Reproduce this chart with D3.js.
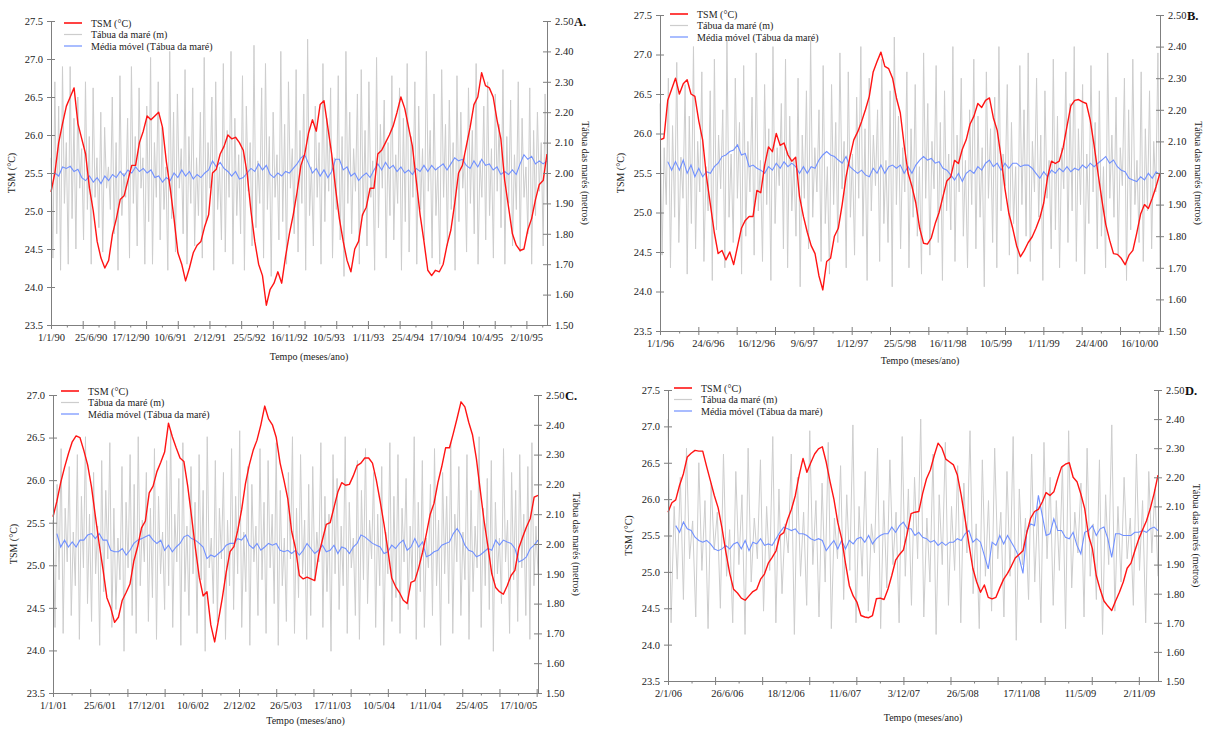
<!DOCTYPE html>
<html><head><meta charset="utf-8">
<script src="https://cdn.jsdelivr.net/npm/d3@7"></script>
<style>
html,body{margin:0;padding:0;background:#fff;}
svg{display:block;}
svg text{font-family:"Liberation Serif","Times New Roman",serif;}
</style></head><body>
<svg id="chart" width="1208" height="729"></svg>
<script>
// ---------- DATA ----------
const ticksA = ["1/1/90","25/6/90","17/12/90","10/6/91","2/12/91","25/5/92","16/11/92","10/5/93","1/11/93","25/4/94","17/10/94","10/4/95","2/10/95"];
const ticksB = ["1/1/96","24/6/96","16/12/96","9/6/97","1/12/97","25/5/98","16/11/98","10/5/99","1/11/99","24/4/00","16/10/00"];
const ticksC = ["1/1/01","25/6/01","17/12/01","10/6/02","2/12/02","26/5/03","17/11/03","10/5/04","1/11/04","25/4/05","17/10/05"];
const ticksD = ["2/1/06","26/6/06","18/12/06","11/6/07","3/12/07","26/5/08","17/11/08","11/5/09","2/11/09"];

const periodA = ["1/1/90","1/1/96"];
const periodB = ["1/1/96","31/12/00"];
const periodC = ["1/1/01","31/12/05"];
const periodD = ["2/1/06","29/12/09"];

// TSM (°C), evenly spaced over the period
const tsmA = [25.25,25.5,25.9,26.15,26.38,26.5,26.62,26.15,25.95,25.75,
25.3,25.0,24.6,24.38,24.25,24.35,24.7,24.9,25.15,25.2,
25.4,25.6,25.6,25.9,26.05,26.25,26.2,26.25,26.3,26.1,
25.65,25.3,24.9,24.45,24.3,24.08,24.25,24.45,24.55,24.6,
24.8,24.95,25.5,25.55,25.75,25.85,26.0,25.95,25.97,25.9,
25.8,25.5,25.0,24.6,24.3,24.15,23.76,23.97,24.05,24.2,
24.05,24.4,24.7,24.95,25.25,25.6,25.75,26.03,26.2,26.05,
26.4,26.45,26.1,25.75,25.3,24.9,24.6,24.35,24.2,24.5,
24.6,24.95,25.05,25.3,25.3,25.75,25.8,25.9,26.0,26.12,
26.3,26.5,26.35,26.1,25.85,25.4,24.95,24.6,24.22,24.15,
24.22,24.2,24.3,24.55,24.75,25.1,25.5,25.6,25.85,26.1,
26.4,26.5,26.82,26.65,26.62,26.5,26.2,25.95,25.4,25.05,
24.7,24.55,24.48,24.5,24.75,24.9,25.15,25.35,25.4,25.75];

const tsmB = [25.92,25.94,26.42,26.56,26.7,26.5,26.63,26.68,26.5,26.47,
26.16,25.92,25.45,25.1,24.75,24.48,24.52,24.4,24.5,24.34,
24.57,24.8,24.9,24.95,24.95,25.28,25.25,25.6,25.83,25.77,
26.0,25.85,25.88,25.73,25.65,25.7,25.2,24.95,24.75,24.58,
24.48,24.2,24.02,24.38,24.42,24.7,24.8,25.1,25.45,25.7,
25.92,26.02,26.15,26.3,26.47,26.78,26.91,27.03,26.85,26.82,
26.7,26.45,26.26,25.85,25.5,25.33,25.12,24.8,24.61,24.6,
24.68,24.86,25.0,25.2,25.4,25.45,25.66,25.62,25.8,25.92,
26.12,26.22,26.38,26.33,26.42,26.45,26.2,26.04,25.7,25.3,
24.99,24.8,24.58,24.44,24.52,24.62,24.69,24.8,24.93,25.12,
25.45,25.65,25.62,25.65,25.82,26.09,26.35,26.42,26.43,26.4,
26.38,26.17,25.85,25.5,25.16,24.85,24.65,24.48,24.47,24.42,
24.34,24.46,24.52,24.74,24.98,25.1,25.05,25.18,25.33,25.5];

const tsmC = [25.57,25.75,25.97,26.15,26.31,26.45,26.52,26.5,26.35,26.18,
25.92,25.58,25.25,24.95,24.62,24.5,24.33,24.39,24.59,24.68,
24.78,25.05,25.22,25.44,25.52,25.85,25.93,26.1,26.21,26.33,
26.67,26.51,26.38,26.26,26.22,25.93,25.57,25.2,24.86,24.64,
24.69,24.3,24.1,24.36,24.62,24.92,25.16,25.22,25.41,25.65,
25.96,26.18,26.35,26.47,26.65,26.87,26.72,26.65,26.5,26.2,
26.0,25.78,25.4,25.2,24.88,24.84,24.86,24.84,24.82,25.12,
25.3,25.48,25.5,25.68,25.86,25.97,25.94,25.95,26.05,26.17,
26.2,26.26,26.26,26.2,26.0,25.75,25.48,25.18,24.85,24.75,
24.68,24.59,24.55,24.8,24.82,24.97,25.15,25.37,25.6,25.73,
25.97,26.16,26.38,26.38,26.55,26.73,26.92,26.86,26.68,26.53,
26.25,25.88,25.52,25.22,24.9,24.74,24.69,24.66,24.76,24.88,
24.94,25.2,25.33,25.45,25.55,25.8,25.82];

const tsmD = [25.82,25.95,25.99,26.19,26.35,26.58,26.63,26.67,26.66,26.66,
26.45,26.25,26.05,25.88,25.6,25.27,24.98,24.76,24.71,24.64,
24.61,24.67,24.73,24.76,24.9,24.97,25.12,25.2,25.29,25.5,
25.54,25.72,25.86,26.05,26.33,26.56,26.37,26.5,26.62,26.69,
26.72,26.51,26.24,26.0,25.68,25.46,25.12,24.81,24.67,24.58,
24.4,24.38,24.37,24.4,24.63,24.64,24.62,24.76,24.95,25.16,
25.24,25.3,25.53,25.8,25.82,25.83,26.08,26.28,26.4,26.6,
26.77,26.7,26.55,26.51,26.47,26.33,26.05,25.73,25.38,25.05,
24.86,24.72,24.82,24.65,24.63,24.65,24.78,24.9,24.98,25.08,
25.19,25.24,25.29,25.54,25.74,25.83,25.86,25.96,26.09,26.05,
26.1,26.28,26.44,26.48,26.5,26.3,26.24,26.07,25.87,25.5,
25.32,24.95,24.76,24.6,24.53,24.47,24.6,24.72,24.86,25.05,
25.12,25.29,25.45,25.58,25.7,25.87,26.08,26.33];

// Tábua da maré (m), evenly spaced over the period
const tideA = [2.05,1.72,2.30,1.80,2.22,1.68,2.35,1.90,2.10,1.70,
2.35,1.85,2.18,1.75,2.25,1.95,2.08,1.78,2.30,1.88,
2.12,1.70,2.28,1.92,2.05,1.82,2.20,1.74,2.15,1.95,
2.02,1.88,2.25,1.80,2.10,1.68,2.32,1.86,2.00,1.92,
2.18,1.72,2.35,1.90,2.12,1.76,2.28,1.95,2.05,1.70,
2.22,1.84,2.38,1.70,2.10,1.92,2.30,1.78,2.15,1.88,
2.02,1.68,2.40,1.85,2.20,1.74,2.26,1.95,2.08,1.80,
2.34,1.70,2.12,1.90,2.28,1.76,2.05,1.86,2.20,1.72,
2.38,1.84,2.10,1.95,2.25,1.68,2.30,1.88,2.02,1.78,
2.36,1.74,2.14,1.92,2.40,1.70,2.18,1.86,2.06,1.80,
2.32,1.68,2.22,1.94,2.10,1.76,2.42,1.82,2.04,1.90,
2.28,1.72,2.36,1.88,2.12,1.66,2.20,1.92,2.06,1.78,
2.40,1.84,2.16,1.70,2.30,1.95,2.08,1.80,2.34,1.74,
2.14,1.90,2.26,1.68,2.44,1.86,2.02,1.76,2.22,1.92,
2.10,1.70,2.36,1.84,2.18,1.94,2.28,1.72,2.05,1.88,
2.32,1.78,2.12,1.66,2.40,1.90,2.20,1.80,2.08,1.94,
2.26,1.70,2.34,1.86,2.14,1.76,2.30,1.92,2.04,1.68,
2.38,1.82,2.16,1.95,2.24,1.72,2.10,1.86,2.32,1.78,
2.06,1.90,2.28,1.68,2.18,1.84,2.36,1.74,2.12,1.92,
2.30,1.70,2.22,1.88,2.08,1.78,2.40,1.94,2.14,1.72,
2.26,1.86,2.02,1.70,2.34,1.92,2.16,1.76,2.24,1.88,
2.10,1.68,2.32,1.84,2.20,1.95,2.06,1.74,2.28,1.90,
2.14,1.80,2.36,1.70,2.04,1.92,2.22,1.78,2.30,1.86,
2.08,1.72,2.26,1.94,2.16,1.82,2.34,1.70,2.12,1.90,
2.24,1.76,2.06,1.88,2.30,1.74,2.18,1.92,2.02,1.80,
2.28,1.70,2.14,1.86,2.20,1.94,2.10,1.76,2.26,1.90];

const tideB = [2.22,1.74,2.08,1.90,2.30,1.70,2.15,1.86,2.35,1.78,
2.05,1.92,2.28,1.68,2.18,1.84,2.40,1.76,2.10,1.94,
2.32,1.72,2.02,1.88,2.26,1.66,2.36,1.82,2.12,1.95,
2.20,1.70,2.42,1.86,2.06,1.78,2.30,1.92,2.16,1.68,
2.34,1.80,2.10,1.94,2.24,1.74,2.38,1.88,2.04,1.72,
2.28,1.90,2.14,1.66,2.40,1.84,2.08,1.96,2.22,1.76,
2.36,1.70,2.18,1.88,2.04,1.80,2.30,1.64,2.12,1.92,
2.26,1.76,2.42,1.86,2.08,1.94,2.20,1.72,2.34,1.84,
2.02,1.68,2.28,1.90,2.16,1.78,2.38,1.95,2.10,1.70,
2.32,1.86,2.06,1.74,2.24,1.92,2.40,1.80,2.14,1.66,
2.30,1.88,2.12,1.96,2.20,1.72,2.36,1.84,2.04,1.78,
2.26,1.64,2.43,1.90,2.18,1.76,2.08,1.94,2.32,1.70,
2.14,1.86,2.28,1.80,2.02,1.68,2.38,1.92,2.22,1.74,
2.10,1.95,2.34,1.78,2.16,1.66,2.26,1.88,2.06,1.82,
2.40,1.72,2.12,1.94,2.30,1.80,2.04,1.70,2.20,1.90,
2.36,1.76,2.18,1.86,2.08,1.64,2.32,1.92,2.14,1.78,
2.24,1.70,2.40,1.88,2.06,1.96,2.28,1.74,2.16,1.84,
2.02,1.68,2.34,1.90,2.20,1.80,2.38,1.72,2.10,1.94,
2.30,1.86,2.12,1.66,2.26,1.92,2.04,1.76,2.36,1.82,
2.18,1.70,2.08,1.95,2.32,1.78,2.22,1.88,2.40,1.72,
2.14,1.90,2.28,1.68,2.06,1.84,2.34,1.94,2.16,1.76,
2.26,1.80,2.02,1.70,2.38,1.92,2.12,1.86,2.24,1.74,
2.08,1.96,2.30,1.66,2.20,1.82,2.36,1.90,2.04,1.78,
2.32,1.72,2.14,1.88,2.26,1.76,2.10,1.94,2.38,1.70];

const tideC = [2.08,1.72,2.20,1.88,2.32,1.70,2.12,1.94,2.26,1.76,
2.04,1.86,2.30,1.68,2.16,1.92,2.36,1.80,2.10,1.74,
2.24,1.90,2.06,1.66,2.28,1.84,2.18,1.95,2.34,1.72,
2.12,1.78,2.02,1.88,2.26,1.64,2.14,1.92,2.30,1.76,
2.20,1.70,2.36,1.86,2.08,1.94,2.24,1.74,2.12,1.82,
2.32,1.68,2.16,1.90,2.04,1.78,2.28,1.86,2.38,1.72,
2.10,1.94,2.22,1.66,2.34,1.84,2.06,1.76,2.26,1.90,
2.14,1.70,2.30,1.88,2.18,1.64,2.36,1.92,2.02,1.80,
2.28,1.74,2.12,1.95,2.24,1.68,2.08,1.86,2.32,1.78,
2.16,1.90,2.38,1.72,2.04,1.84,2.26,1.66,2.20,1.94,
2.06,1.76,2.32,1.88,2.14,1.70,2.28,1.92,2.10,1.80,
2.34,1.66,2.18,1.86,2.02,1.74,2.24,1.95,2.36,1.70,
2.12,1.82,2.30,1.90,2.08,1.68,2.20,1.76,2.26,1.88,
2.04,1.94,2.34,1.72,2.16,1.84,2.10,1.64,2.30,1.90,
2.22,1.78,2.06,1.86,2.36,1.70,2.14,1.92,2.02,1.76,
2.28,1.68,2.18,1.88,2.32,1.80,2.08,1.95,2.24,1.72,
2.10,1.86,2.26,1.66,2.04,1.90,2.34,1.74,2.16,1.82,
2.30,1.70,2.12,1.94,2.22,1.78,2.06,1.88,2.36,1.68,
2.14,1.84,2.28,1.72,2.02,1.92,2.20,1.76,2.32,1.86,
2.08,1.66,2.24,1.90,2.16,1.80,2.34,1.70,2.10,1.94,
2.26,1.76,2.04,1.88,2.30,1.68,2.18,1.84,2.06,1.92,
2.36,1.72,2.12,1.86,2.22,1.78,2.28,1.64,2.14,1.90,
2.02,1.80,2.32,1.94,2.08,1.70,2.24,1.88,2.18,1.74,
2.30,1.92,2.10,1.76,2.26,1.68,2.34,1.86,2.06,1.90];

const tideD = [2.40,1.70,2.10,1.85,2.20,1.78,2.30,1.92,2.05,1.72,
2.25,1.88,2.12,1.68,2.18,1.95,2.08,1.75,2.28,1.86,
2.02,1.70,2.22,1.90,2.14,1.66,2.30,1.84,2.06,1.92,
2.26,1.74,2.10,1.88,2.34,1.70,2.16,1.80,2.04,1.94,
2.28,1.66,2.20,1.86,2.08,1.76,2.36,1.90,2.12,1.72,
2.18,1.84,2.32,1.68,2.06,1.92,2.24,1.78,2.14,1.88,
2.38,1.70,2.10,1.86,2.22,1.74,2.04,1.94,2.30,1.68,
2.12,1.82,2.26,1.90,2.08,1.70,2.34,1.86,2.16,1.76,
2.20,1.92,2.40,1.72,2.06,1.84,2.28,1.66,2.14,1.90,
2.32,1.76,2.10,1.88,2.24,1.70,2.18,1.94,2.36,1.80,
2.04,1.68,2.26,1.86,2.12,1.74,2.30,1.92,2.08,1.72,
2.22,1.86,2.34,1.64,2.16,1.90,2.06,1.78,2.28,1.84,
2.10,1.70,2.32,1.92,2.20,1.76,2.12,1.88,2.24,1.68,
2.36,1.82,2.08,1.94,2.18,1.72,2.30,1.86,2.04,1.78,
2.26,1.66,2.14,1.90,2.38,1.74,2.10,1.84,2.20,1.92,
2.06,1.76,2.28,1.88,2.12,1.70,2.22,1.94,2.16,1.86];

// Média móvel (Tábua da maré), same spacing as TSM
const mmA = [null,2.000,1.990,2.020,2.015,2.022,2.005,2.012,1.985,1.975,1.990,
1.970,1.985,1.965,1.990,1.975,1.995,1.985,2.005,1.990,2.010,
2.000,2.020,2.005,2.015,2.000,2.010,1.985,1.990,1.970,1.985,
1.975,2.000,1.985,2.010,1.990,2.005,1.980,1.995,1.985,2.000,
2.010,2.040,2.020,2.035,2.015,2.005,1.990,2.005,1.980,1.985,
2.000,2.015,2.005,2.030,2.010,2.025,1.995,1.985,2.000,1.990,
2.005,2.000,2.015,2.030,2.050,2.060,2.030,2.000,2.015,1.990,
2.010,1.985,2.005,2.045,2.045,2.010,2.020,1.990,2.000,1.975,
1.990,2.000,1.985,2.010,2.030,2.010,2.035,2.015,2.025,2.005,
2.020,2.000,2.010,1.995,2.015,2.005,2.025,2.005,2.025,2.010,
2.020,2.030,2.010,2.030,2.050,2.040,2.045,2.025,2.015,2.040,
2.020,2.045,2.025,2.030,2.010,2.020,1.995,2.005,1.995,2.010,
1.995,2.030,2.060,2.045,2.055,2.030,2.040,2.030,2.040];

const mmB = [null,null,2.036,2.009,2.036,2.009,2.041,1.999,2.025,1.988,2.015,1.988,
2.004,1.999,2.020,2.031,2.052,2.057,2.068,2.073,2.089,2.057,
2.062,2.020,2.025,2.015,2.009,1.999,2.020,2.009,2.031,2.015,
2.036,2.020,2.031,2.020,1.999,2.020,1.999,2.020,2.015,2.041,
2.057,2.068,2.057,2.052,2.041,2.031,2.052,2.020,2.009,1.999,
2.009,1.994,1.988,2.015,1.999,2.025,1.999,2.020,2.025,2.015,
2.025,1.999,2.020,1.999,2.025,2.041,2.052,2.041,2.046,2.031,
2.036,2.015,2.009,1.994,1.978,1.999,1.973,1.999,2.009,1.999,
2.020,2.009,2.031,2.041,2.020,2.031,2.009,2.031,2.015,2.031,
2.031,2.020,2.025,2.025,2.015,1.999,1.983,2.004,1.988,2.009,
1.999,2.015,2.004,2.020,2.004,2.015,2.009,2.025,2.015,2.031,
2.020,2.031,2.041,2.052,2.031,2.041,2.020,2.009,2.004,1.983,
1.978,1.973,1.988,1.978,1.999,1.983,2.004,1.994];

const mmC = [null,2.035,1.990,2.013,1.990,2.007,1.990,2.013,2.013,2.030,2.035,
2.018,2.035,2.013,2.013,1.979,1.974,1.974,1.985,1.963,1.979,
2.002,2.013,2.018,2.024,2.030,2.013,2.002,2.013,1.979,1.996,
1.974,1.990,2.002,2.024,2.030,2.018,2.013,2.002,1.990,1.951,
1.963,1.957,1.968,1.979,1.996,2.002,2.002,2.018,2.013,2.030,
1.996,1.985,2.002,1.979,1.990,2.002,1.996,2.002,1.979,1.974,
1.979,1.968,1.979,1.963,1.979,2.002,1.985,1.968,1.979,1.996,
1.974,1.979,1.996,1.968,1.990,1.985,1.968,1.990,2.002,2.030,
2.024,2.013,2.002,1.996,1.990,1.968,1.974,1.996,1.985,2.002,
2.013,1.979,1.990,2.018,1.990,2.007,1.957,1.963,1.974,1.979,
1.996,2.002,2.007,2.035,2.052,2.030,1.996,1.979,1.974,1.957,
1.963,1.974,1.985,1.979,2.013,1.996,2.013,2.007,2.002,1.985,
1.940,1.946,1.957,1.985,1.996,2.013];

const mmD = [null,null,2.034,2.011,2.046,2.023,2.017,1.994,1.983,1.977,1.983,1.971,
1.954,1.948,1.954,1.966,1.954,1.971,1.977,1.954,1.983,1.948,
1.977,1.971,1.989,1.966,1.971,1.966,1.989,2.011,2.029,2.023,
2.017,2.023,2.006,2.006,2.000,1.989,1.983,1.989,1.983,1.948,
1.966,1.983,1.954,1.983,1.954,1.983,1.971,1.989,1.994,1.977,
2.000,1.971,1.989,2.000,2.006,2.006,2.029,2.011,2.034,2.046,
2.023,2.023,2.000,2.011,1.994,1.989,1.977,1.983,1.966,1.977,
1.966,1.977,1.977,1.989,1.983,2.006,2.017,1.977,1.989,1.977,
1.931,1.885,1.977,1.966,2.000,1.971,2.000,1.977,1.954,1.925,
1.870,2.017,2.040,2.034,2.138,2.069,2.000,2.006,2.057,2.017,
2.017,1.994,1.989,2.011,1.966,1.937,2.011,2.017,2.034,2.000,
2.023,2.029,1.989,1.925,2.006,2.006,2.000,2.000,2.000,2.011,
2.011,2.017,2.011,2.023,2.029,2.017];

const legendLabels = ["TSM (°C)", "Tábua da maré (m)", "Média móvel (Tábua da maré)"];
const yTitle = "TSM (°C)";
const y2Title = "Tábua das marés (metros)";
const xTitle = "Tempo (meses/ano)";
const tsmTicks = [23.5,24.0,24.5,25.0,25.5,26.0,26.5,27.0,27.5];
const tideTicks = [1.5,1.6,1.7,1.8,1.9,2.0,2.1,2.2,2.3,2.4,2.5];

// ---------- LAYOUT ----------
const FONT = '"Liberation Serif","Times New Roman",serif';
const COL = {tsm:"#ff1414", tide:"#cdcdcd", mm:"#7090ff", axis:"#7f7f7f", text:"#222"};

const panels = [
  {letter:"A.", period:periodA, labels:ticksA, tsm:tsmA, tide:tideA, mm:mmA, top:27.5,
   box:{l:51,r:547,t:21,b:325}, leg:{x:13,y:2}, xt:32},
  {letter:"B.", period:periodB, labels:ticksB, tsm:tsmB, tide:tideB, mm:mmB, top:27.5,
   box:{l:660,r:1160,t:15,b:331}, leg:{x:10,y:-1}, xt:30},
  {letter:"C.", period:periodC, labels:ticksC, tsm:tsmC, tide:tideC, mm:mmC, top:27.0,
   box:{l:53,r:538,t:395,b:693}, leg:{x:8,y:-4}, xt:28},
  {letter:"D.", period:periodD, labels:ticksD, tsm:tsmD, tide:tideD, mm:mmD, top:27.5,
   box:{l:668,r:1158,t:390,b:681}, leg:{x:6,y:-2}, xt:37}
];

const parse = d3.utcParse("%d/%m/%y");
const svg = d3.select("#chart");

function styleAxis(g){
  g.attr("font-family", null).style("font-family", FONT).attr("font-size", 10.5).attr("color", COL.axis);
  g.selectAll("text").attr("fill", COL.text).style("font-family", FONT);
}
function txt(g){ return g.append("text").style("font-family", FONT).attr("fill", COL.text); }

panels.forEach(p => {
  const {l, r, t, b} = p.box;
  const start = parse(p.period[0]), end = parse(p.period[1]);
  const x = d3.scaleUtc().domain([start, end]).range([l, r]);
  const y = d3.scaleLinear().domain([23.5, p.top]).range([b, t]);
  const y2 = d3.scaleLinear().domain([1.5, 2.5]).range([b, t]);
  const at = (i, n) => new Date(+start + (end - start) * i / (n - 1));

  const g = svg.append("g");

  // tide (grey)
  g.append("path").datum(p.tide)
    .attr("fill","none").attr("stroke",COL.tide).attr("stroke-width",1)
    .attr("d", d3.line().x((d,i)=>x(at(i,p.tide.length))).y(d=>y2(d)));
  // moving average (blue)
  g.append("path").datum(p.mm)
    .attr("fill","none").attr("stroke",COL.mm).attr("stroke-width",1.1)
    .attr("d", d3.line().defined(d=>d!=null).x((d,i)=>x(at(i,p.mm.length))).y(d=>y2(d)));
  // TSM (red)
  g.append("path").datum(p.tsm)
    .attr("fill","none").attr("stroke",COL.tsm).attr("stroke-width",1.4)
    .attr("stroke-linejoin","round")
    .attr("d", d3.line().x((d,i)=>x(at(i,p.tsm.length))).y(d=>y(d)));

  // left axis
  const ya = g.append("g").attr("transform",`translate(${l},0)`)
    .call(d3.axisLeft(y).tickValues(tsmTicks.filter(v=>v<=p.top+1e-9))
      .tickFormat(d3.format(".1f")).tickSize(4).tickSizeOuter(0).tickPadding(4));
  ya.selectAll(".tick line").attr("x1",4);
  styleAxis(ya);

  // right axis
  const y2a = g.append("g").attr("transform",`translate(${r},0)`)
    .call(d3.axisRight(y2).tickValues(tideTicks)
      .tickFormat(d3.format(".2f")).tickSize(4).tickSizeOuter(0).tickPadding(4));
  y2a.selectAll(".tick line").attr("x1",-4);
  styleAxis(y2a);

  // x axis ticks every 70 days, major every 140
  const tickDates = [];
  for (let k=0; ; k++){
    const d = d3.utcDay.offset(start, 70*k);
    if (d > end) break;
    tickDates.push(d);
  }
  const xa = g.append("g").attr("transform",`translate(0,${b})`)
    .call(d3.axisBottom(x).tickValues(tickDates).tickFormat("").tickSize(4).tickSizeOuter(0));
  xa.selectAll(".tick line")
    .attr("y1",(d,i)=> i%2===0 ? -4 : 0)
    .attr("y2",(d,i)=> i%2===0 ? 4 : 2.5);
  styleAxis(xa);

  // x labels every 175 days
  const labelDates = p.labels.map(parse);
  const xl = g.append("g").attr("transform",`translate(0,${b})`)
    .call(d3.axisBottom(x).tickValues(labelDates).tickFormat((d,i)=>p.labels[i]).tickSize(0).tickPadding(9));
  xl.select(".domain").remove();
  styleAxis(xl);

  // titles
  txt(g).attr("transform",`translate(${l-36},${(t+b)/2}) rotate(-90)`)
    .attr("text-anchor","middle").attr("font-size",10).text(yTitle);
  txt(g).attr("transform",`translate(${r+35},${(t+b)/2}) rotate(90)`)
    .attr("text-anchor","middle").attr("font-size",10).text(y2Title);
  txt(g).attr("x",(l+r)/2+10).attr("y",b+p.xt+3)
    .attr("text-anchor","middle").attr("font-size",10).text(xTitle);
  txt(g).attr("x",r+27).attr("y",t+5)
    .attr("font-size",12.5).attr("font-weight","bold").attr("fill","#111").text(p.letter);

  // legend
  const legCols = [COL.tsm, COL.tide, COL.mm];
  const legW = [1.6, 1.2, 1.2];
  legendLabels.forEach((s,i)=>{
    const yy = t + p.leg.y + i*11.5;
    g.append("line").attr("x1",l+p.leg.x).attr("x2",l+p.leg.x+18)
      .attr("y1",yy).attr("y2",yy).attr("stroke",legCols[i]).attr("stroke-width",legW[i]);
    txt(g).attr("x",l+p.leg.x+27).attr("y",yy).attr("dy","0.35em")
      .attr("font-size",10).text(s);
  });
});
</script>
</body></html>
